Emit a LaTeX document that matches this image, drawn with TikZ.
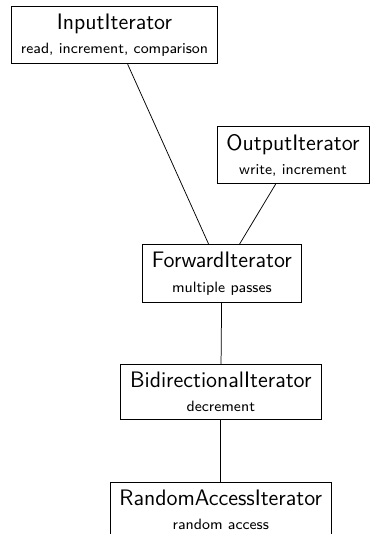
\documentclass[tikz,border=0pt]{standalone}
\begin{document}
\begin{tikzpicture}[iter/.style={draw, align=center, font=\sffamily, inner xsep=5pt, inner ysep=4pt}]
  \useasboundingbox (-2.155,0.659) rectangle (4.846,-9.39);

  % iterator categories
  \node[iter] (input) at (0,0) {{\large InputIterator}\\[1pt]{\footnotesize read, increment, comparison}};
  \node[iter] (output) at (3.36,-2.26) {{\large OutputIterator}\\[1pt]{\footnotesize write, increment}};
  \node[iter] (forward) at (2.02,-4.49) {{\large ForwardIterator}\\[1pt]{\footnotesize multiple passes}};
  \node[iter] (bidir) at (2.0,-6.72) {{\large BidirectionalIterator}\\[1pt]{\footnotesize decrement}};
  \node[iter] (random) at (2.0,-8.94) {{\large RandomAccessIterator}\\[1pt]{\footnotesize random access}};

  % refinement links
  \draw (input) -- (forward);
  \draw (output) -- (forward);
  \draw (forward) -- (bidir);
  \draw (bidir) -- (random);
\end{tikzpicture}
\end{document}
